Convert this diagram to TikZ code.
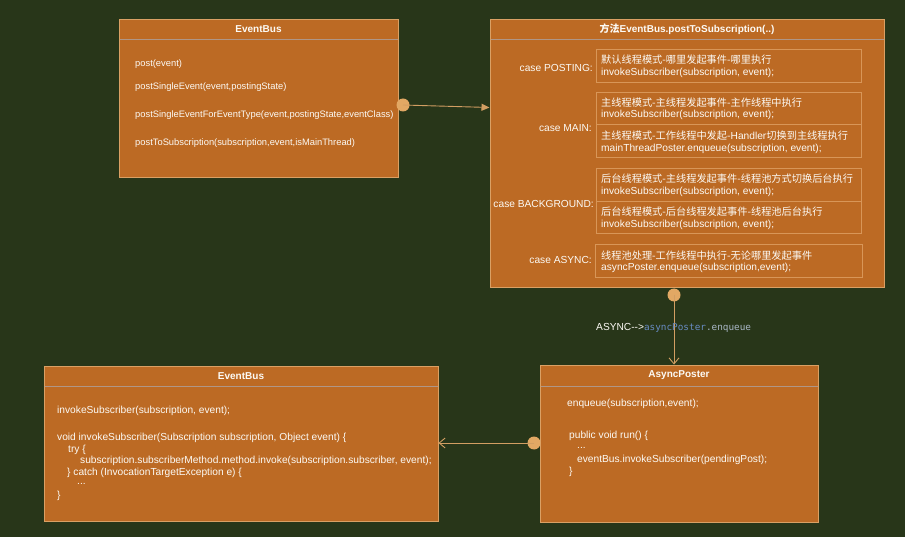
\documentclass[tikz,border=0pt]{standalone}
\usepackage{fontspec}
\setmainfont{Liberation Sans}
\setmonofont{DejaVu Sans Mono}
\newfontfamily\cjk{Noto Sans CJK SC}
\usetikzlibrary{arrows.meta}
\definecolor{bgc}{RGB}{40,54,25}
\definecolor{boxc}{RGB}{188,106,36}
\definecolor{bordc}{RGB}{218,160,100}
\definecolor{subc}{RGB}{216,150,88}
\definecolor{hdrc}{RGB}{175,150,135}
\definecolor{linec}{RGB}{210,158,98}
\definecolor{dotc}{RGB}{226,168,100}
\definecolor{txtc}{RGB}{252,250,245}
\definecolor{codeblue}{RGB}{104,140,196}
\definecolor{codegray}{RGB}{169,183,198}
\tikzset{
  umlbox/.style={draw=bordc, fill=boxc, line width=0.9pt, inner sep=0pt},
  subbox/.style={draw=subc, line width=0.9pt, inner sep=0pt, minimum width=265pt},
  hdr/.style={draw=hdrc, line width=0.9pt},
  ttl/.style={text=txtc, font=\fontsize{10}{12}\selectfont\bfseries, inner sep=0pt},
  txt/.style={text=txtc, font=\fontsize{10.2}{12}\selectfont, inner sep=0pt, anchor=west},
  stxt/.style={txt, font=\fontsize{9.35}{11}\selectfont},
  ctxt/.style={text=txtc, font=\fontsize{10.2}{12}\selectfont\cjk, inner sep=0pt, anchor=west},
  lbl/.style={text=txtc, font=\fontsize{10.2}{12}\selectfont, inner sep=0pt, anchor=east},
  conn/.style={draw=linec, line width=0.9pt},
  dotn/.style={circle, fill=dotc, inner sep=0pt, minimum size=13pt},
}
\begin{document}
\begin{tikzpicture}[x=1pt,y=-1pt]
\fill[bgc] (0,0) rectangle (905,537);
\useasboundingbox (0,0) rectangle (905,537);

% ---------- Box 1: EventBus (top left)
\node[umlbox, minimum width=279pt, minimum height=158pt] (eb1) at (258.5,98) {};
\draw[hdr] (119.5,39) -- (397.5,39);
\node[ttl] (eb1t) at (258.5,29) {EventBus};
\node[stxt] (eb1a) at (135,64) {post(event)};
\node[stxt] (eb1b) at (135,87) {postSingleEvent(event,postingState)};
\node[stxt] (eb1c) at (135,115) {postSingleEventForEventType(event,postingState,eventClass)};
\node[stxt] (eb1d) at (135,143) {postToSubscription(subscription,event,isMainThread)};

% ---------- Box 2: postToSubscription
\node[umlbox, minimum width=394pt, minimum height=268pt] (pts) at (687,153) {};
\draw[hdr] (490.5,39) -- (883.5,39);
\node[ttl] (ptst) at (687,29) {{\cjk 方法}EventBus.postToSubscription(..)};

\node[subbox, minimum height=33pt] (s1) at (728.5,65.5) {};
\node[subbox, minimum height=32pt] (s2) at (728.5,108) {};
\node[subbox, minimum height=33pt] (s3) at (728.5,140.5) {};
\node[subbox, minimum height=33pt] (s4) at (728.5,184.5) {};
\node[subbox, minimum height=32pt] (s5) at (728.5,217) {};
\node[subbox, minimum height=33pt, minimum width=267pt] (s6) at (728.5,260.5) {};

\node[lbl] (l1) at (593,68) {case POSTING:};
\node[lbl] (l2) at (592,128) {case MAIN:};
\node[lbl] (l3) at (594,204) {case BACKGROUND:};
\node[lbl] (l4) at (592,260) {case ASYNC:};

\node[ctxt] (s1a) at (601,60) {默认线程模式-哪里发起事件-哪里执行};
\node[txt] (s1b) at (601,73) {invokeSubscriber(subscription, event);};
\node[ctxt] (s2a) at (601,102.5) {主线程模式-主线程发起事件-主作线程中执行};
\node[txt] (s2b) at (601,115) {invokeSubscriber(subscription, event);};
\node[ctxt] (s3a) at (601,136) {主线程模式-工作线程中发起-{\rmfamily Handler}切换到主线程执行};
\node[txt] (s3b) at (601,149) {mainThreadPoster.enqueue(subscription, event);};
\node[ctxt] (s4a) at (601,179) {后台线程模式-主线程发起事件-线程池方式切换后台执行};
\node[txt] (s4b) at (601,192) {invokeSubscriber(subscription, event);};
\node[ctxt] (s5a) at (601,212) {后台线程模式-后台线程发起事件-线程池后台执行};
\node[txt] (s5b) at (601,225) {invokeSubscriber(subscription, event);};
\node[ctxt] (s6a) at (601,255.5) {线程池处理-工作线程中执行-无论哪里发起事件};
\node[txt] (s6b) at (601,268) {asyncPoster.enqueue(subscription,event);};

% ---------- Box 3: EventBus (bottom left)
\node[umlbox, minimum width=394pt, minimum height=155pt] (eb2) at (241,443.5) {};
\draw[hdr] (44.5,386) -- (437.5,386);
\node[ttl] (eb2t) at (241,376) {EventBus};
\node[txt] (c1) at (57,411) {invokeSubscriber(subscription, event);};
\node[txt] (c2) at (57,438) {void invokeSubscriber(Subscription subscription, Object event) \{};
\node[txt] (c3) at (68,449.5) {try \{};
\node[txt] (c4) at (80,461) {subscription.subscriberMethod.method.invoke(subscription.subscriber, event);};
\node[txt] (c5) at (67,472.5) {\} catch (InvocationTargetException e) \{};
\node[txt] (c6) at (77,484) {...};
\node[txt] (c7) at (57,496) {\}};

% ---------- Box 4: AsyncPoster
\node[umlbox, minimum width=278pt, minimum height=157pt] (ap) at (679,443.5) {};
\draw[hdr] (540.5,386) -- (817.5,386);
\node[ttl] (apt) at (679,375) {AsyncPoster};
\node[txt] (a1) at (567,404) {enqueue(subscription,event);};
\node[txt] (a2) at (569,436) {public void run() \{};
\node[txt] (a3) at (577,447.5) {...};
\node[txt] (a4) at (577,460) {eventBus.invokeSubscriber(pendingPost);};
\node[txt] (a5) at (569,472) {\}};

% ---------- Connectors
\coordinate (e1) at (489.5,107.5);
\node[dotn] (d1) at (403,105) {};
\draw[conn, -{Triangle[length=8pt,width=7pt]}] (d1.center) -- (e1);

\node[dotn] (d2) at (674,295) {};
\draw[conn, -{Straight Barb[length=6pt,width=10pt]}] (d2.center) -- (ap.north -| d2);

\node[dotn] (d3) at (534,443) {};
\draw[conn, -{Straight Barb[length=6pt,width=10pt]}] (d3.center) -- (eb2.east |- d3);

\node[inner sep=0pt, anchor=west, font=\fontsize{10.2}{12}\selectfont] (asl) at (596,328)
  {\textcolor{txtc}{ASYNC{-}{-}>}\textcolor{codeblue}{\ttfamily\fontsize{9.35}{11}\selectfont asyncPoster}\textcolor{codegray}{\ttfamily\fontsize{9.35}{11}\selectfont .enqueue}};
\end{tikzpicture}
\end{document}
